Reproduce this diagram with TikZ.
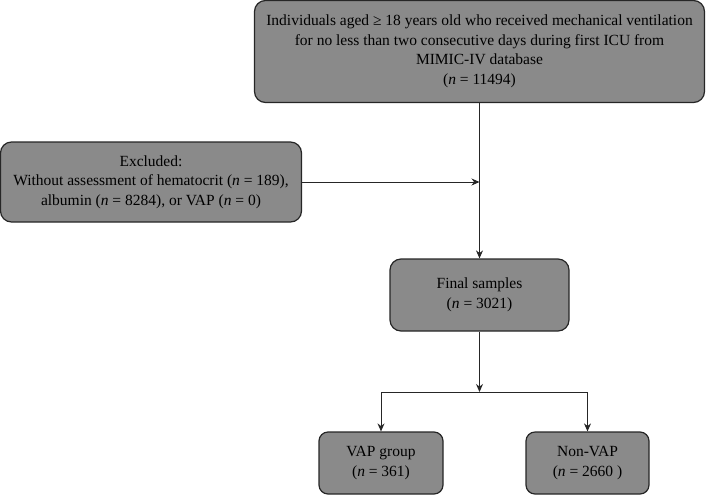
\documentclass[tikz,border=0pt]{standalone}
\usepackage{fontspec}
\setmainfont{Liberation Serif}
\usetikzlibrary{positioning, arrows.meta}

\definecolor{boxgray}{RGB}{138,138,138}

\begin{document}
\begin{tikzpicture}[
  x=1pt, y=1pt,
  >={Stealth[length=8pt, width=7pt]},
  %% Node style
  flowbox/.style={
    draw=black!85, fill=boxgray, rounded corners=11pt, line width=1.2pt,
    align=center, inner sep=2pt,
    font=\fontsize{15.5}{19.5}\selectfont
  },
  link/.style={->, line width=1pt, black!85},
]
\useasboundingbox (0,0) rectangle (706,-496);

%% ── MAIN NODES ────────────────────────────────────────────────────────────
\node[flowbox, minimum width=450pt, minimum height=102pt] (cohort) at (479.5,-51.5)
  {Individuals aged ≥ 18 years old who received mechanical ventilation\\
   for no less than two consecutive days during first ICU from\\
   MIMIC-IV database\\
   (\textit{n} = 11494)};
\node[flowbox, minimum width=301pt, minimum height=80pt] (excluded) at (151,-182)
  {Excluded:\\
   Without assessment of hematocrit (\textit{n} = 189),\\
   albumin (\textit{n} = 8284), or VAP (\textit{n} = 0)};
\node[flowbox, minimum width=179pt, minimum height=72pt] (final) at (479.5,-295)
  {Final samples\\(\textit{n} = 3021)};
\node[flowbox, minimum width=124pt, minimum height=62pt, rounded corners=9pt] (vap) at (381,-463)
  {VAP group\\(\textit{n} = 361)};
\node[flowbox, minimum width=123pt, minimum height=62pt, rounded corners=9pt] (nonvap) at (587.5,-463)
  {Non-VAP\\(\textit{n} = 2660 )};

\coordinate (split) at (final.south |- 0,-392);

%% ── ARROWS ────────────────────────────────────────────────────────────────
%% Cohort → Final samples
\draw[link] (cohort.south) -- (final.north);

%% Excluded → main line
\draw[link] (excluded.east) -- (excluded.east -| cohort.south);

%% Final samples → split
\draw[link] (final.south) -- (split);

%% split → groups
\draw[link] (split) -| (vap.north);
\draw[link] (split) -| (nonvap.north);

\end{tikzpicture}
\end{document}
